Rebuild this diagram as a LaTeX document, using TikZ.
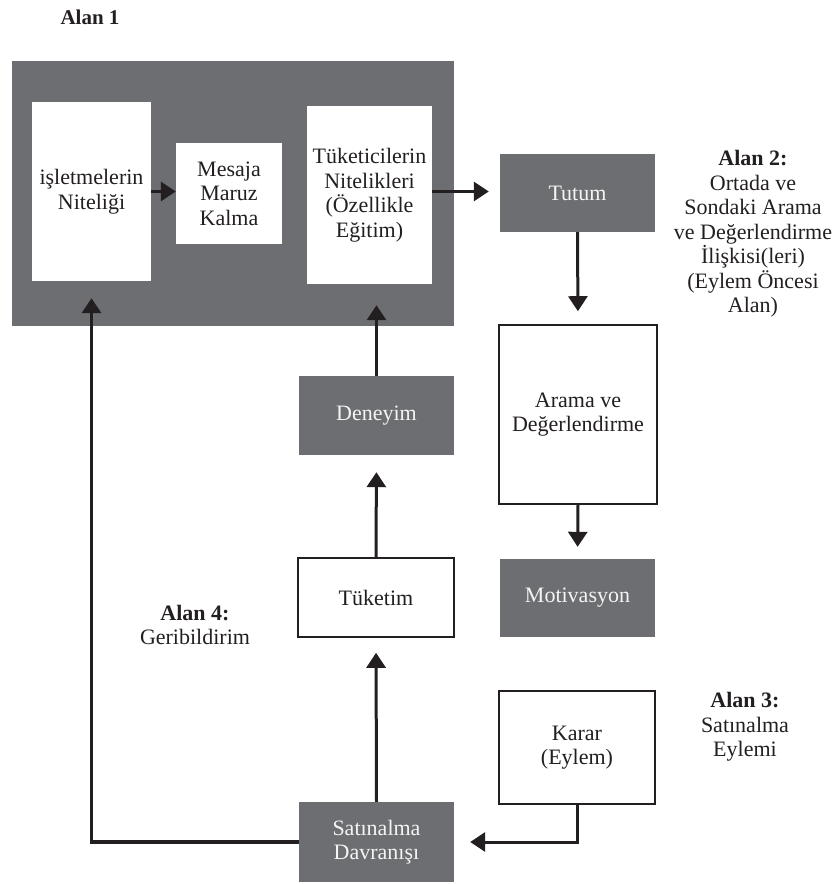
\documentclass[tikz,border=0pt]{standalone}
\usepackage{fontspec}
\setmainfont{Liberation Serif}
\usetikzlibrary{arrows.meta}
\definecolor{boxgray}{HTML}{6D6E71}
\definecolor{ink}{HTML}{231F20}
\definecolor{paletext}{HTML}{F4F4F4}
\begin{document}
\begin{tikzpicture}[x=1pt,y=-1pt,
  txt/.style={font=\fontsize{22}{24.5}\selectfont, align=center, text=ink},
  graybox/.style={txt, rectangle, fill=boxgray, text=paletext, inner sep=0pt},
  whitebox/.style={txt, rectangle, fill=white, inner sep=0pt},
  framebox/.style={txt, rectangle, fill=white, draw=ink, line width=1.6pt, inner sep=0pt},
  arr/.style={draw=ink, line width=3pt, -{Triangle[width=19pt,length=15pt]}},
  lbl/.style={txt},
]
\useasboundingbox (0,0) rectangle (831,884);
% Alan 1 gray area
\node[graybox, minimum width=442pt, minimum height=265pt] (alan1) at (233,193.5) {};
\node[whitebox, minimum width=119pt, minimum height=179pt] (isl) at (91.5,191.5) {işletmelerin\\Niteliği};
\node[whitebox, minimum width=106pt, minimum height=101pt] (mes) at (229,193.5) {Mesaja\\Maruz\\Kalma};
\node[whitebox, minimum width=125pt, minimum height=178pt] (tuk) at (369.5,195) {Tüketicilerin\\Nitelikleri\\(Özellikle\\Eğitim)};
% right column
\node[graybox, minimum width=155pt, minimum height=78pt] (tutum) at (577.5,193) {Tutum};
\node[framebox, minimum width=158pt, minimum height=179pt] (arama) at (578,414.5) {Arama ve\\Değerlendirme};
\node[graybox, minimum width=155pt, minimum height=78pt] (motiv) at (577.5,598) {Motivasyon};
\node[framebox, minimum width=156pt, minimum height=113pt] (karar) at (577,747.5) {Karar\\(Eylem)};
% middle column
\node[graybox, minimum width=155pt, minimum height=79pt] (deneyim) at (376.5,415.5) {Deneyim};
\node[framebox, minimum width=156pt, minimum height=79pt] (tuketim) at (376,597.5) {Tüketim};
\node[graybox, minimum width=155pt, minimum height=80pt] (sat) at (376.5,842) {Satınalma\\Davranışı};
% labels
\node[lbl, font=\fontsize{21}{24.5}\selectfont\bfseries] (l1) at (90,17) {Alan 1};
\node[lbl] (l2) at (753,234) {\textbf{Alan 2:}\\Ortada ve\\Sondaki Arama\\ve Değerlendirme\\İlişkisi(leri)\\(Eylem Öncesi\\Alan)};
\node[lbl] (l3) at (745,727) {\textbf{Alan 3:}\\Satınalma\\Eylemi};
\node[lbl] (l4) at (195,625) {\textbf{Alan 4:}\\Geribildirim};
% arrows
\draw[arr] (isl.east) -- (mes.west |- isl.east);
\draw[arr, shorten >=11pt] (tuk.east |- 0,191.5) -- (tutum.west |- 0,191.5);
\draw[arr, shorten >=13pt] (tutum.south) -- (arama.north);
\draw[arr, shorten >=12pt] (arama.south) -- (motiv.north);
\draw[arr, shorten >=21pt] (deneyim.north) -- (tuk.south -| deneyim.north);
\draw[arr, shorten >=17pt] (tuketim.north) -- (deneyim.south);
\draw[arr, shorten >=15pt] (sat.north) -- (tuketim.south);
\draw[arr, shorten >=16pt] (karar.south) |- (sat.east);
\draw[arr, line width=3.5pt, shorten >=17pt] (sat.west) -| (isl.south);
\end{tikzpicture}
\end{document}
